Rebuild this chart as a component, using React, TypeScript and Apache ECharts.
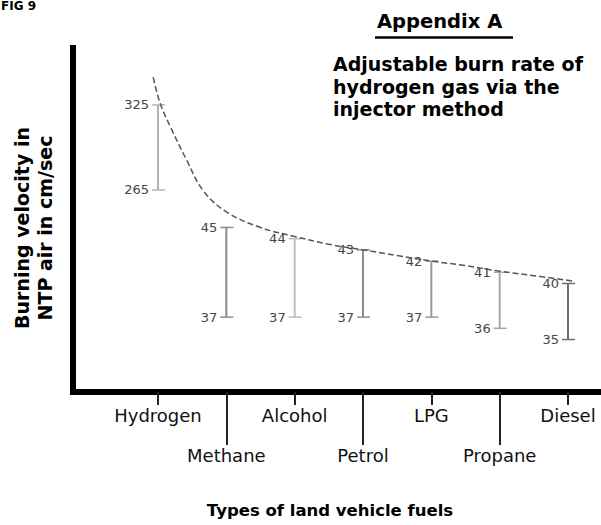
import React, { useEffect, useRef } from "react";
import * as echarts from "echarts";

// ---- data ----
const fuels = ["Hydrogen", "Methane", "Alcohol", "Petrol", "LPG", "Propane", "Diesel"];
const lowValues = [265, 37, 37, 37, 37, 36, 35];
const highValues = [325, 45, 44, 43, 42, 41, 40];
// hand-drawn trend curve (x = fuel index, y = burning velocity on the lower scale)
const curveX = [-0.07, 0.03, 0.18, 0.42, 0.66, 1.0, 1.5, 2.0, 2.5, 3.0, 3.5, 4.0, 4.5, 5.0, 5.5, 6.1];
const curveY = [58.4, 56.1, 54.0, 51.0, 48.3, 46.4, 45.0, 44.2, 43.5, 43.0, 42.5, 42.0, 41.6, 41.1, 40.7, 40.2];
const upperTickIdx = [0, 2, 4, 6];
const lowerTickIdx = [1, 3, 5];

// ---- styles ----
const barColors = ["#b4b4b4", "#8c8c8c", "#bdbdbd", "#8c8c8c", "#9a9a9a", "#a8a8a8", "#6e6e6e"];
const FONT = '"DejaVu Sans", Verdana, sans-serif';

const X_MIN = -1.244;
const X_MAX = 6.483;

function renderRange(params: any, api: any) {
  const x = api.value(0);
  const lo = api.value(1);
  const hi = api.value(2);
  const idx = api.value(3);
  const pLo = api.coord([x, lo]);
  const pHi = api.coord([x, hi]);
  const color = barColors[idx];
  const labelStyle = (t: string) => ({
    text: t,
    fill: "#444",
    fontSize: 13,
    fontFamily: FONT,
    align: "right",
    verticalAlign: "middle",
  });
  return {
    type: "group",
    children: [
      { type: "line", shape: { x1: pLo[0], y1: pLo[1], x2: pHi[0], y2: pHi[1] }, style: { stroke: color, lineWidth: 2 } },
      { type: "line", shape: { x1: pHi[0] - 6, y1: pHi[1], x2: pHi[0] + 7, y2: pHi[1] }, style: { stroke: color, lineWidth: 1.5 } },
      { type: "line", shape: { x1: pLo[0] - 6, y1: pLo[1], x2: pLo[0] + 7, y2: pLo[1] }, style: { stroke: color, lineWidth: 1.5 } },
      { type: "text", x: pHi[0] - 9, y: pHi[1], style: labelStyle(String(hi)) },
      { type: "text", x: pLo[0] - 9, y: pLo[1], style: labelStyle(String(lo)) },
    ],
  };
}

export default function App() {
  const ref = useRef<HTMLDivElement>(null);

  useEffect(() => {
    if (!ref.current) return;
    const chart = echarts.init(ref.current, undefined, { renderer: "svg" });

    const rangeData = fuels.map((_, i) => [i, lowValues[i], highValues[i], i]);
    const hydrogenData = rangeData.filter((d) => d[0] === 0);
    const otherData = rangeData.filter((d) => d[0] !== 0);
    const curveData = curveX.map((x, i) => [x, curveY[i]]);

    const labelCommon = {
      fontSize: 18,
      fontFamily: FONT,
      color: "#111",
      formatter: (v: number) => fuels[Math.round(v)] ?? "",
    };

    chart.setOption({
      animation: false,
      backgroundColor: "#fff",
      grid: { left: 73, right: 0, top: 48, bottom: 133, containLabel: false },
      xAxis: [
        {
          type: "value",
          min: X_MIN,
          max: X_MAX,
          position: "bottom",
          axisLine: { show: true, onZero: false, lineStyle: { color: "#000", width: 6, cap: "square" } },
          axisTick: { show: true, customValues: upperTickIdx, length: 13, lineStyle: { color: "#222", width: 2 } },
          axisLabel: { ...labelCommon, customValues: upperTickIdx, margin: 14 },
          splitLine: { show: false },
        },
        {
          type: "value",
          min: X_MIN,
          max: X_MAX,
          position: "bottom",
          axisLine: { show: false, onZero: false },
          axisTick: { show: true, customValues: lowerTickIdx, length: 53, lineStyle: { color: "#222", width: 2 } },
          axisLabel: { ...labelCommon, customValues: lowerTickIdx, margin: 54 },
          splitLine: { show: false },
        },
      ],
      yAxis: [
        {
          type: "value",
          min: 30.32,
          max: 61.01,
          axisLine: { show: true, onZero: false, lineStyle: { color: "#000", width: 6, cap: "square" } },
          axisTick: { show: false },
          axisLabel: { show: false },
          splitLine: { show: false },
        },
        { type: "value", min: 122.4, max: 365.2, show: false, splitLine: { show: false } },
      ],
      series: [
        {
          type: "custom",
          name: "Hydrogen range",
          xAxisIndex: 0,
          yAxisIndex: 1,
          renderItem: renderRange,
          data: hydrogenData,
          clip: false,
        },
        {
          type: "custom",
          name: "Fuel range",
          xAxisIndex: 0,
          yAxisIndex: 0,
          renderItem: renderRange,
          data: otherData,
          clip: false,
        },
        {
          type: "line",
          name: "Trend",
          xAxisIndex: 0,
          yAxisIndex: 0,
          data: curveData,
          smooth: 0.4,
          showSymbol: false,
          symbol: "none",
          lineStyle: { color: "#555", width: 1.5, type: [6, 3] },
          z: 3,
        },
      ],
      graphic: [
        {
          type: "text",
          x: 1,
          y: 0,
          style: { text: "FIG 9", fontSize: 12, fontWeight: "bold", fontFamily: FONT, fill: "#000", verticalAlign: "top" },
        },
        {
          type: "text",
          x: 377,
          y: 21,
          style: { text: "Appendix A", fontSize: 19.5, fontWeight: "bold", fontFamily: FONT, fill: "#000", verticalAlign: "middle" },
        },
        { type: "line", shape: { x1: 375, y1: 37.5, x2: 513, y2: 37.5 }, style: { stroke: "#000", lineWidth: 2.5 } },
        {
          type: "text",
          x: 333,
          y: 53,
          style: {
            text: "Adjustable burn rate of\nhydrogen gas via the\ninjector method",
            fontSize: 19,
            fontWeight: "bold",
            fontFamily: FONT,
            fill: "#000",
            lineHeight: 22.5,
            verticalAlign: "top",
          },
        },
        {
          type: "text",
          x: 33.5,
          y: 228,
          rotation: Math.PI / 2,
          style: {
            text: "Burning velocity in\nNTP air in cm/sec",
            fontSize: 19,
            fontWeight: "bold",
            fontFamily: FONT,
            fill: "#000",
            lineHeight: 23,
            align: "center",
            verticalAlign: "middle",
          },
        },
        {
          type: "text",
          x: 330,
          y: 510,
          style: {
            text: "Types of land vehicle fuels",
            fontSize: 16.5,
            fontWeight: "bold",
            fontFamily: FONT,
            fill: "#000",
            align: "center",
            verticalAlign: "middle",
          },
        },
      ],
    });

    return () => chart.dispose();
  }, []);

  return (
    <div
      ref={ref}
      style={{ position: "fixed", left: 0, top: 0, width: 601, height: 525, background: "#fff" }}
    />
  );
}
